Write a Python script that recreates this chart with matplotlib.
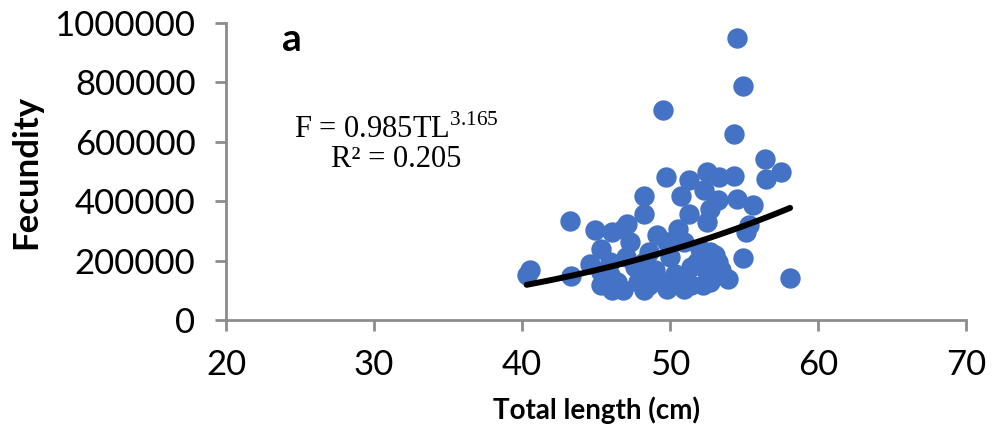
import numpy as np
import matplotlib
matplotlib.use("Agg")
import matplotlib.pyplot as plt
from matplotlib.ticker import FuncFormatter

# total length (cm) and fecundity
total_length = [54.5, 54.9, 49.5, 54.3, 56.4, 57.5, 56.5, 49.7, 51.3, 52.5,
                53.3, 54.3, 52.3, 50.7, 48.2, 48.2, 53.2, 54.5, 55.6, 51.3,
                52.7, 43.2, 47.1, 55.3, 55.1, 54.9, 53.9, 58.1, 40.5, 40.3,
                43.3, 44.9, 46.1, 45.3, 44.6, 45.9, 45.3, 46.1, 45.9, 52.5,
                46.8, 49.1, 50.5, 47.3, 49.8, 50.9, 52.7, 51.8, 53.2, 48.2,
                46.4, 47.8, 49.5, 51.4, 52.7, 46.8, 48.2, 49.8, 50.9, 52.2,
                47.0, 48.6, 50.0, 51.4, 49.0, 47.6, 50.3, 52.4, 53.4, 48.3,
                45.3, 48.6, 52.0, 53.0, 51.0]
fecundity = [950000, 787000, 706000, 628000, 544000, 500000, 476000, 483000, 470000, 500000,
             483000, 486000, 439000, 419000, 419000, 358000, 405000, 409000, 388000, 358000,
             375000, 334000, 324000, 321000, 297000, 209000, 139000, 142000, 169000, 152000,
             149000, 304000, 297000, 240000, 189000, 196000, 118000, 100000, 152000, 331000,
             307000, 287000, 307000, 263000, 263000, 263000, 230000, 196000, 196000, 196000,
             128000, 128000, 128000, 118000, 128000, 100000, 100000, 105000, 105000, 118000,
             213000, 230000, 213000, 179000, 169000, 179000, 155000, 169000, 169000, 145000,
             162000, 118000, 240000, 220000, 145000]

# power trend line F = a * TL^b
coef_a = 0.985
coef_b = 3.165
fit_range = [40.3, 58.1]

x_ticks = [20, 30, 40, 50, 60, 70]
y_ticks = [0, 200000, 400000, 600000, 800000, 1000000]

plt.rcParams['font.family'] = 'Lato'
plt.rcParams['mathtext.fontset'] = 'custom'
plt.rcParams['mathtext.rm'] = 'Liberation Serif'

fig = plt.figure(figsize=(9.92, 4.36), dpi=100)
ax = fig.add_axes([0.228, 0.266, 0.746, 0.681])

ax.scatter(total_length, fecundity, s=215, color='#4472C4', linewidths=0, zorder=2)

tl = np.linspace(fit_range[0], fit_range[1], 100)
ax.plot(tl, coef_a * tl ** coef_b, color='black', lw=4.3, solid_capstyle='round', zorder=3)

ax.set_xlim(20, 70)
ax.set_ylim(0, 1000000)
ax.set_xticks(x_ticks)
ax.set_yticks(y_ticks)
ax.yaxis.set_major_formatter(FuncFormatter(lambda v, p: f"{int(v)}"))

for side in ['top', 'right']:
    ax.spines[side].set_visible(False)
for side in ['left', 'bottom']:
    ax.spines[side].set_color('#8c8c8c')
    ax.spines[side].set_linewidth(2)
ax.tick_params(axis='both', color='#8c8c8c', width=2, length=8, labelsize=25)
ax.tick_params(axis='y', pad=14)
ax.tick_params(axis='x', pad=13)

ax.set_xlabel('Total length (cm)', fontsize=20, fontweight='bold', labelpad=11)
ax.set_ylabel('Fecundity', fontsize=25, fontweight='bold', labelpad=9)

ax.text(0.075, 0.945, 'a', transform=ax.transAxes, fontsize=28, fontweight='bold',
        ha='left', va='center')
ax.text(0.23, 0.64, 'F = 0.985TL$^{3.165}$', transform=ax.transAxes,
        fontsize=22, family='Liberation Serif', ha='center', va='center')
ax.text(0.23, 0.54, 'R² = 0.205', transform=ax.transAxes,
        fontsize=22, family='Liberation Serif', ha='center', va='center')

fig.savefig('out.png', dpi=100)
